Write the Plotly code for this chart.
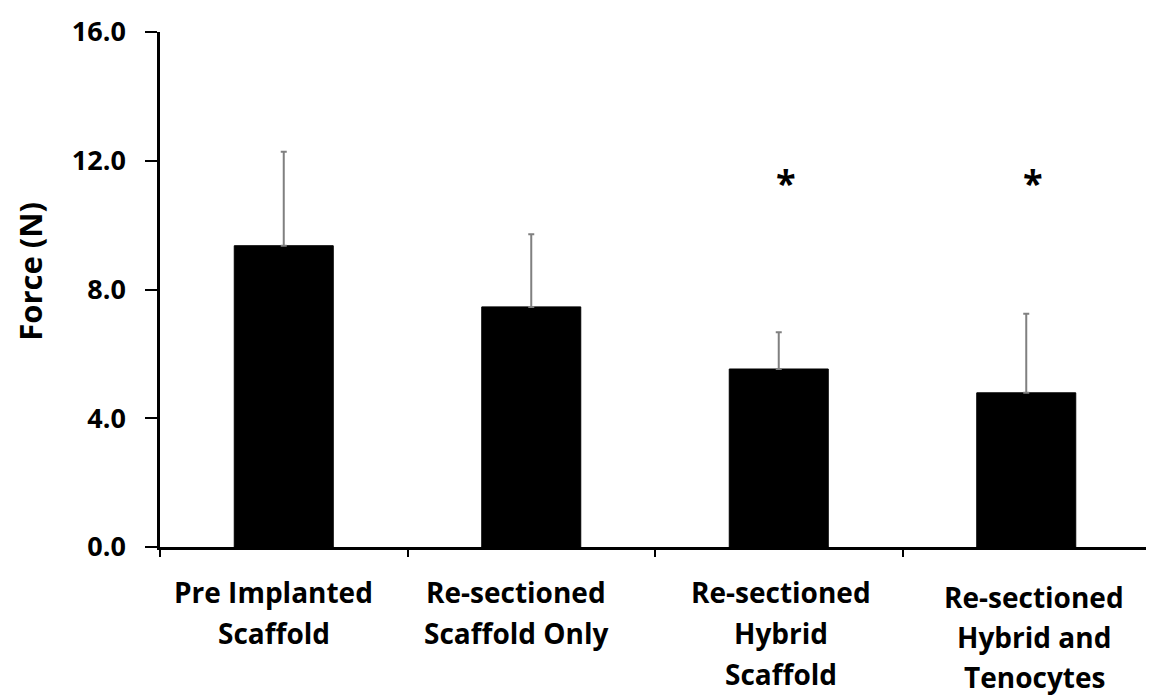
import plotly.graph_objects as go

categories = ["Pre Implanted Scaffold", "Re-sectioned Scaffold Only",
              "Re-sectioned Hybrid Scaffold", "Re-sectioned Hybrid and Tenocytes"]
label_lines = [["Pre Implanted", "Scaffold"],
               ["Re-sectioned", "Scaffold Only"],
               ["Re-sectioned", "Hybrid", "Scaffold"],
               ["Re-sectioned", "Hybrid and", "Tenocytes"]]
force_mean = [9.36, 7.46, 5.53, 4.79]
force_sd = [2.92, 2.26, 1.14, 2.46]
significant = [False, False, True, True]
star_level = 11.46
y_ticks = [0, 4, 8, 12, 16]

# page is rendered with an 8px body margin; compensate so the figure fills 1154x697
PAGE_OFF = 8
W, H = 1154 - PAGE_OFF, 697 - PAGE_OFF

fig = go.Figure()
fig.add_trace(go.Bar(
    x=categories, y=force_mean,
    marker=dict(color="black", line=dict(color="black", width=1)),
    error_y=dict(type="data", array=force_sd, arrayminus=[0] * len(force_sd),
                 symmetric=False, color="#808080", thickness=2, width=3),
    width=0.4,
))

for cat, sig in zip(categories, significant):
    if sig:
        fig.add_annotation(x=cat, y=star_level, xref="x", yref="y", text="<b>*</b>",
                           showarrow=False, xshift=7, yshift=-4,
                           font=dict(family="Open Sans", size=36, color="black"))

# category labels, one annotation per line for the wide line spacing
first_line_offset = [45, 45, 45, 50]
line_gaps = [41, 41, 41, 40]
label_xshift = [-10, -15, 2, 8]
for cat, lines, off, gap, xs in zip(categories, label_lines, first_line_offset, line_gaps, label_xshift):
    for i, line in enumerate(lines):
        fig.add_annotation(x=cat, y=0, xref="x", yref="paper", text=line,
                           showarrow=False, xanchor="center", yanchor="middle",
                           xshift=xs, yshift=-(off + i * gap),
                           font=dict(family="Open Sans", size=28, color="black", weight="bold"))

fig.add_annotation(text="<b>Force (N)</b>", textangle=-90, xref="paper", yref="paper",
                   x=-0.131, y=0.535, showarrow=False, xanchor="center", yanchor="middle",
                   font=dict(family="Open Sans", size=31, color="black"))

fig.update_layout(
    width=W, height=H,
    margin=dict(l=160 - PAGE_OFF, r=4, t=32 - PAGE_OFF, b=150, autoexpand=False),
    paper_bgcolor="white", plot_bgcolor="white",
    showlegend=False,
    font=dict(family="Open Sans", color="black"),
)
fig.update_xaxes(
    range=[-0.5, 3.5], showline=True, linecolor="black", linewidth=2.5,
    ticks="outside", tickson="boundaries", ticklen=7, tickwidth=2, tickcolor="black",
    showticklabels=False,
    showgrid=False, zeroline=False,
)
fig.update_yaxes(
    range=[0, 16], tickvals=y_ticks, tickformat=".1f",
    showline=True, linecolor="black", linewidth=2.5,
    ticks="outside", ticklen=12, tickwidth=2, tickcolor="black",
    ticklabelstandoff=14,
    tickfont=dict(family="Open Sans", size=27, color="black", weight="bold"),
    showgrid=False, zeroline=False,
)

fig.write_html("out.html")
